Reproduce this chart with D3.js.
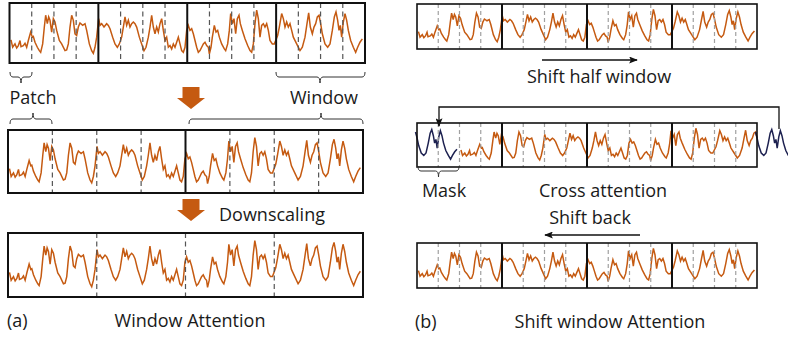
<!DOCTYPE html>
<html>
<head>
<meta charset="utf-8">
<script src="https://cdn.jsdelivr.net/npm/d3@7"></script>
<style>
  body { margin: 0; background: #fff; }
  svg { display: block; }
  text { font-family: "Open Sans", sans-serif; font-size: 18px; fill: #1a1a1a; }
</style>
</head>
<body>
<svg id="fig" width="788" height="339"></svg>
<script>
// sample times (arbitrary units) and signal values
const times = [33,38,45,50,55,60,63,70,75,80,85,92,97,100,105,112,118,122,128,133,
  137,142,146,150,155,160,165,170,178,185,195,200,205,210,215,220,225,230,235,240,
  248,255,260,268,275,280,285,290,296,300,305,312,320,325,330,338,345,352,358,365,
  370,375,380,385,390,395,400,405,410,418,425,432,438,445,450,455,460,465,470,475,
  480,485,490,495,500,505,510,515,520,525,530,535,540,545,550,555,560,
  565,570,575,580,585,590,595,600,605,610,615,620,625,628,633,637,643,648,653,658,
  665,673,677,683,688,692,697,702,707,712,717,721,727,735,743,750,755,760,765,770,
  775,780,785,790,795,800,805,810,817,823,827,833,838,845,850,855,860,865,870,875,
  880,890,900,907,915,921,926,931,937,942,947,952,957,962,967,975,983,990,997,1003,
  1008,1013,1017,1021,1025,1030,1035,1040,1045,1052,1060,1067,1073,1080,1087];
const load = [42,20,30,18,25,40,22,25,32,20,40,65,50,52,35,20,10,5,30,80,
  115,90,110,100,65,105,95,70,40,30,10,12,30,80,115,100,60,55,80,92,
  85,90,70,30,10,2,20,50,105,85,90,80,90,85,75,50,30,20,30,50,
  80,110,85,100,80,90,95,90,80,50,30,10,20,50,80,115,80,60,80,65,
  90,105,70,40,50,20,25,15,30,20,35,50,30,10,5,20,70,
  85,70,75,60,40,20,5,10,20,30,35,25,20,0,20,50,85,65,70,50,
  30,15,10,30,70,120,90,105,60,105,115,90,70,45,25,10,5,30,90,130,
  105,50,85,90,80,90,70,40,30,30,40,55,80,120,105,80,95,80,90,70,
  50,30,10,20,50,90,122,80,60,80,90,110,115,90,60,30,20,30,70,110,
  125,100,70,85,50,95,120,100,70,40,20,5,20,35,45];
const timeRange = [28.5, 1095];
const loadRange = [0, 130];

const labelsA = ['Patch', 'Window', 'Downscaling', '(a)', 'Window Attention'];
const labelsB = ['Shift half window', 'Mask', 'Cross attention', 'Shift back', '(b)', 'Shift window Attention'];

const orange = '#c55a11';
const navy = '#1d2150';

const svg = d3.select('#fig');

svg.append('defs').append('marker')
  .attr('id', 'head')
  .attr('viewBox', '0 0 10 8')
  .attr('refX', 9).attr('refY', 4)
  .attr('markerWidth', 9).attr('markerHeight', 7)
  .attr('markerUnits', 'userSpaceOnUse')
  .attr('orient', 'auto')
  .append('path')
  .attr('d', 'M0,0 L10,4 L0,8 L2,4 Z')
  .attr('fill', '#111');

const panels = [
  { x0: 9.5, x1: 365, y0: 3, y1: 63, patches: 16, win: 4, light: false },
  { x0: 8, x1: 363, y0: 130, y1: 193, patches: 8, win: 4, light: false },
  { x0: 8, x1: 363, y0: 233, y1: 297, patches: 4, win: 0, light: false },
  { x0: 417, x1: 757, y0: 4, y1: 49, patches: 16, win: 4, light: true },
  { x0: 417, x1: 757, y0: 123, y1: 167, patches: 16, win: 4, light: true, shift: 2 },
  { x0: 417, x1: 757, y0: 243, y1: 288, patches: 16, win: 4, light: true }
];

const series = times.map((t, i) => ({ t: t, v: load[i] }));
const span = timeRange[1] - timeRange[0];

panels.forEach((p) => {
  const g = svg.append('g');
  const h = p.y1 - p.y0;
  const x = d3.scaleLinear().domain(timeRange).range([p.x0, p.x1]);
  const y = d3.scaleLinear().domain(loadRange).range([p.y1 - 0.15 * h, p.y0 + 0.12 * h]);
  const line = d3.line().x((d) => x(d.t)).y((d) => y(d.v));

  if (p.shift) {
    const off = span * p.shift / 16;
    const cut = timeRange[1] - off;
    const idx = series.findIndex((d) => d.t > cut);
    const head = series.slice(0, idx + 1).map((d) => ({ t: d.t + off, v: d.v }));
    const tail = series.slice(idx - 1);
    g.append('path').attr('d', line(head)).attr('fill', 'none')
      .attr('stroke', orange).attr('stroke-width', 1.5);
    g.append('path').attr('d', line(tail.map((d) => ({ t: d.t - cut + timeRange[0], v: d.v }))))
      .attr('fill', 'none').attr('stroke', navy).attr('stroke-width', 1.5);
    g.append('path').attr('d', line(tail.map((d) => ({ t: d.t + off, v: d.v }))))
      .attr('fill', 'none').attr('stroke', navy).attr('stroke-width', 1.5);
  } else {
    g.append('path').attr('d', line(series)).attr('fill', 'none')
      .attr('stroke', orange).attr('stroke-width', 1.5);
  }

  const px = d3.scaleLinear().domain([0, p.patches]).range([p.x0, p.x1]);
  d3.range(1, p.patches).forEach((k) => {
    const solid = p.win && k % p.win === 0;
    g.append('line')
      .attr('x1', px(k)).attr('x2', px(k))
      .attr('y1', p.y0).attr('y2', p.y1)
      .attr('stroke', solid ? '#111' : (p.light ? '#a0a0a0' : '#555'))
      .attr('stroke-width', solid ? 2 : 1.2)
      .attr('stroke-dasharray', solid ? null : (p.light ? '4,3' : '5,3.5'));
  });

  g.append('rect')
    .attr('x', p.x0).attr('y', p.y0)
    .attr('width', p.x1 - p.x0).attr('height', h)
    .attr('fill', 'none')
    .attr('stroke', '#111')
    .attr('stroke-width', p.light ? 1.6 : 2);
});

// curly braces: dir 1 = tip points down
function brace(x1, x2, yh, dir, tick) {
  const e = yh - dir * 5, tip = yh + dir * 6, r = 3;
  const path = d3.path();
  path.moveTo(x1, e);
  path.quadraticCurveTo(x1, yh, x1 + r, yh);
  path.lineTo(tick - r, yh);
  path.quadraticCurveTo(tick, yh, tick, tip);
  path.quadraticCurveTo(tick, yh, tick + r, yh);
  path.lineTo(x2 - r, yh);
  path.quadraticCurveTo(x2, yh, x2, e);
  svg.append('path').attr('d', path.toString())
    .attr('fill', 'none').attr('stroke', '#333').attr('stroke-width', 1);
}
brace(10, 32, 77, 1, 21);
brace(276, 365, 77, 1, 320);
brace(10, 52, 119, -1, 33);
brace(189, 363, 119, -1, 321);
brace(418, 459, 171, 1, 438.5);

// orange block arrows
function blockArrow(cx, top) {
  svg.append('path')
    .attr('d', `M${cx - 8.5},${top} H${cx + 8.5} V${top + 11} H${cx + 14} L${cx},${top + 22} L${cx - 14},${top + 11} H${cx - 8.5} Z`)
    .attr('fill', orange);
}
blockArrow(191, 87);
blockArrow(191, 199);

// thin arrows
svg.append('line').attr('x1', 542).attr('x2', 637).attr('y1', 60).attr('y2', 60)
  .attr('stroke', '#111').attr('stroke-width', 1.3).attr('marker-end', 'url(#head)');
svg.append('line').attr('x1', 640).attr('x2', 545).attr('y1', 235).attr('y2', 235)
  .attr('stroke', '#111').attr('stroke-width', 1.3).attr('marker-end', 'url(#head)');
svg.append('path').attr('d', 'M779,129 V107 H439 V126')
  .attr('fill', 'none').attr('stroke', '#111').attr('stroke-width', 1.3)
  .attr('marker-end', 'url(#head)');

// texts
const txt = (s, x, y, anchor) => svg.append('text').attr('x', x).attr('y', y)
  .attr('text-anchor', anchor || 'start').text(s);
txt(labelsA[0], 33, 104, 'middle');
txt(labelsA[1], 324, 104, 'middle');
txt(labelsA[2], 272, 221, 'middle');
txt(labelsA[3], 7, 327);
txt(labelsA[4], 190, 327, 'middle');
txt(labelsB[0], 599, 83, 'middle');
txt(labelsB[1], 444, 197, 'middle');
txt(labelsB[2], 603, 197, 'middle');
txt(labelsB[3], 590, 224, 'middle');
txt(labelsB[4], 415, 328);
txt(labelsB[5], 610, 328, 'middle');
</script>
</body>
</html>
